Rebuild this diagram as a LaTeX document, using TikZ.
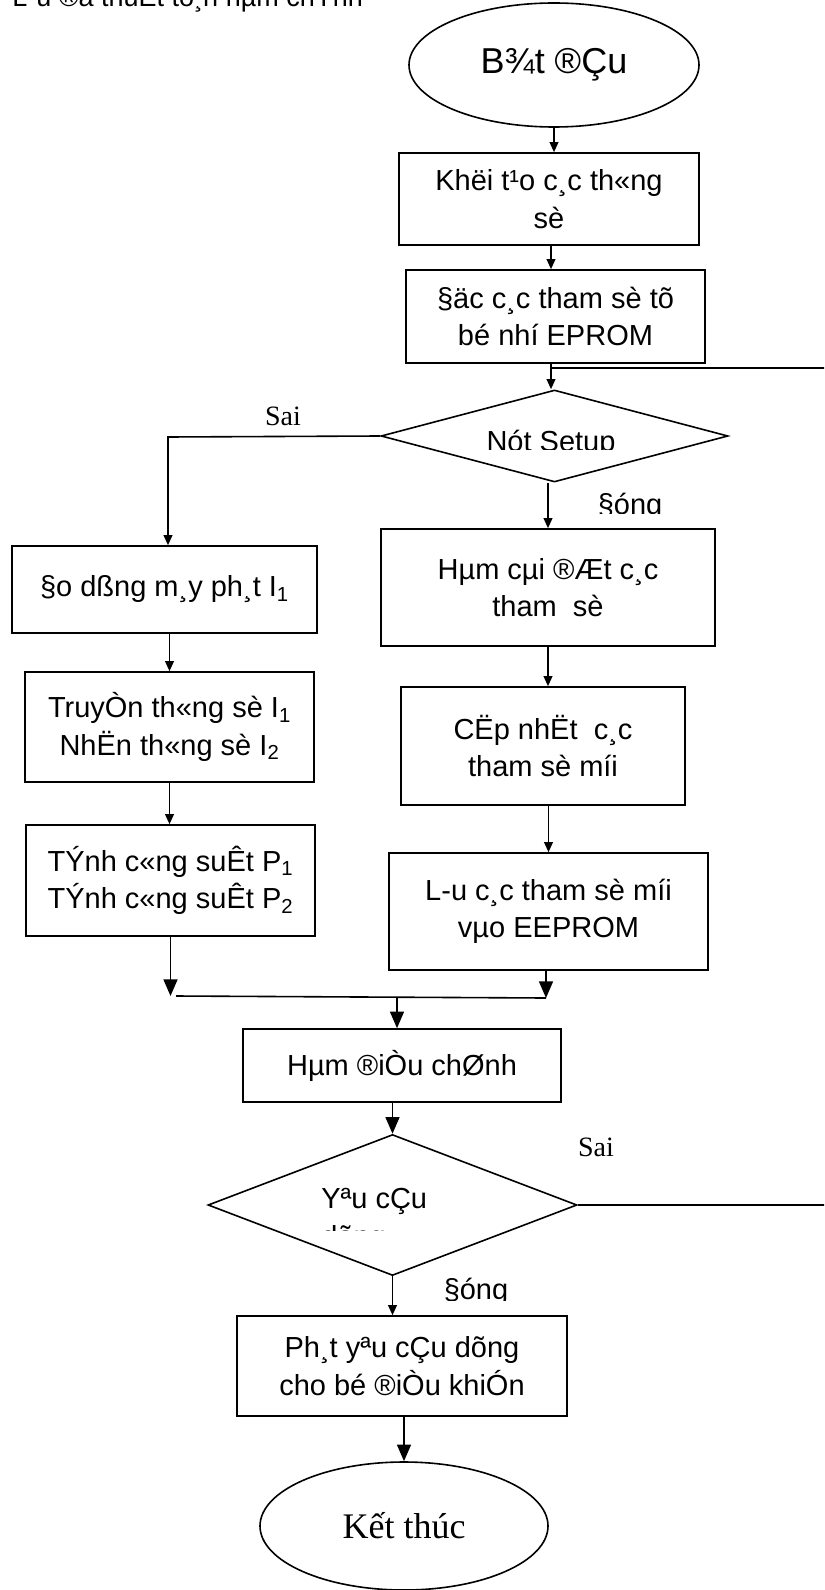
\documentclass[tikz,border=0pt]{standalone}
\usepackage{fontspec}
\setmainfont{Liberation Sans}
\newfontfamily\serifvn{Liberation Serif}
\usetikzlibrary{shapes.geometric,arrows.meta}
\begin{document}
\begin{tikzpicture}[x=0.75pt,y=-0.75pt,
  every node/.style={font=\fontsize{21.75pt}{28pt}\selectfont},
  procbox/.style={draw, rectangle, line width=1.2pt, align=center, inner sep=0pt},
  termnode/.style={draw, ellipse, line width=1.2pt, inner sep=0pt},
  decnode/.style={draw, diamond, line width=1.2pt, inner sep=0pt},
  plainline/.style={line width=1.2pt},
  flowarrow/.style={line width=1.2pt, -{Triangle[length=7.5pt,width=6.5pt]}},
  bigflow/.style={line width=1.2pt, -{Triangle[length=12.5pt,width=10.5pt]}},
  yesno/.style={font=\serifvn\fontsize{21pt}{25pt}\selectfont, inner sep=0pt},
]
\useasboundingbox (0,0) rectangle (824,1590);
\clip (0,0) rectangle (824,1590);

% title (cut at the top edge)
\node[anchor=base west, inner sep=0pt, font=\fontsize{20.25pt}{24pt}\selectfont] (title) at (12,7) {L-u ®å thuËt to¸n hµm chÝnh};

% main column
\node[termnode, minimum width=217.5pt, minimum height=93pt, font=\fontsize{27pt}{32pt}\selectfont] (start) at (554,65) {B¾t ®Çu};
\node[procbox, minimum width=225pt, minimum height=69pt] (b1) at (549,199) {Khëi t¹o c¸c th«ng\\sè};
\node[procbox, minimum width=224.25pt, minimum height=69.75pt] (b2) at (555.5,316.5) {§äc c¸c tham sè tõ\\bé nhí EPROM};
\node[decnode, minimum width=260.25pt, minimum height=69pt] (d1) at (554.5,436) {};
\begin{scope}
  \clip (381,390) rectangle (728,449);
  \node[anchor=base, inner sep=0pt] (d1t) at (551,451) {Nót Setup};
\end{scope}

\coordinate (loopJ) at (551,368);
\draw[flowarrow] (start.south) -- (start.south |- b1.north);
\draw[flowarrow] (loopJ |- b1.south) -- (loopJ |- b2.north);
\draw[flowarrow] (loopJ |- b2.south) -- (loopJ |- d1.north);

% left branch (Sai)
\node[yesno] (sai1) at (283,416) {Sai};
\coordinate (sL) at (168,437);
\node[procbox, minimum width=228.75pt, minimum height=65.25pt] (b3) at (164.5,589.5) {§o dßng m¸y ph¸t I\textsubscript{1}};
\node[procbox, minimum width=216.75pt, minimum height=82.5pt] (b4) at (169.5,727) {TruyÒn th«ng sè I\textsubscript{1}\\NhËn th«ng sè I\textsubscript{2}};
\node[procbox, minimum width=216.75pt, minimum height=83.25pt] (b5) at (170.5,880.5) {TÝnh c«ng suÊt P\textsubscript{1}\\TÝnh c«ng suÊt P\textsubscript{2}};
\draw[flowarrow] (d1.west) -- (sL) -- (sL |- b3.north);
\draw[flowarrow] (b4.north |- b3.south) -- (b4.north);
\draw[flowarrow] (b4.south) -- (b4.south |- b5.north);

% right branch (Dung)
\begin{scope}
  \clip (560,480) rectangle (700,513);
  \node[anchor=base, inner sep=0pt] (dung1) at (630,514) {§óng};
\end{scope}
\node[procbox, minimum width=250.5pt, minimum height=87.75pt] (r1) at (548,587.5) {Hµm cµi ®Æt c¸c\\tham\ \ sè};
\node[procbox, minimum width=213pt, minimum height=88.5pt] (r2) at (543,746) {CËp nhËt\ \ c¸c\\tham sè míi};
\node[procbox, minimum width=239.25pt, minimum height=87.75pt] (r3) at (548.5,911.5) {L-u c¸c tham sè míi\\vµo EEPROM};
\draw[flowarrow] (r1.north |- d1.south) -- (r1.north);
\draw[flowarrow] (r1.south) -- (r1.south |- r2.north);
\draw[flowarrow] (r3.north |- r2.south) -- (r3.north);

% join
\coordinate (jL) at (176,996);
\coordinate (jR) at (546,998);
\coordinate (jM) at (397,997);
\draw[bigflow] (b5.south) -- (b5.south |- jL);
\draw[bigflow] (r3.south -| jR) -- (jR);
\draw[plainline] (jL) -- (jR);

\node[procbox, minimum width=238.5pt, minimum height=54.75pt] (m) at (402,1065.5) {Hµm ®iÒu chØnh};
\draw[bigflow] (jM) -- (jM |- m.north);

\node[decnode, minimum width=276.75pt, minimum height=105.75pt] (d2) at (392.5,1205) {};
\draw[bigflow] (m.south -| d2.north) -- (d2.north);
\begin{scope}
  \clip (208,1135) rectangle (577,1230);
  \node[anchor=base west, align=left, inner sep=0pt] (d2t) at (321,1246.3) {Yªu cÇu\\dõng};
\end{scope}
\node[yesno] (sai2) at (596,1147) {Sai};

% loop back (leaves the picture on the right)
\coordinate (loopR) at (880,1205);
\coordinate (loopT) at (880,368);
\draw[plainline] (d2.east) -- (loopR) -- (loopT) -- (loopJ);

\begin{scope}
  \clip (420,1277) rectangle (560,1300);
  \node[anchor=base, inner sep=0pt] (dung2) at (476,1299) {§óng};
\end{scope}
\node[procbox, minimum width=247.5pt, minimum height=75pt] (p) at (402,1366) {Ph¸t yªu cÇu dõng\\cho bé ®iÒu khiÓn};
\draw[flowarrow] (d2.south) -- (d2.south |- p.north);

\node[termnode, minimum width=216pt, minimum height=96pt, font=\serifvn\fontsize{27pt}{32pt}\selectfont] (fin) at (404,1526) {Kết thúc};
\draw[bigflow] (p.south -| fin.north) -- (fin.north);
\end{tikzpicture}
\end{document}
